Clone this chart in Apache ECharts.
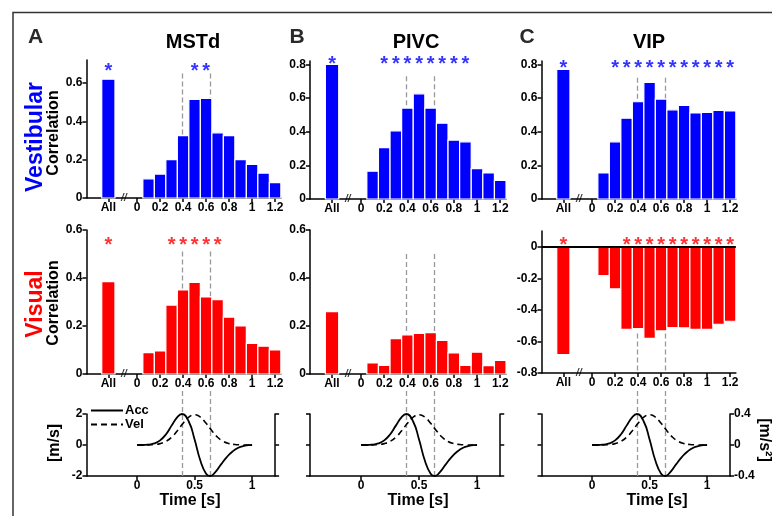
<!DOCTYPE html>
<html>
<head>
<meta charset="utf-8">
<script src="https://cdn.jsdelivr.net/npm/echarts@6/dist/echarts.min.js"></script>
<style>
html, body { margin: 0; background: #fff; }
#fig { width: 772px; height: 516px; }
</style>
</head>
<body>
<div id="fig"></div>
<script>
// time bins (s) and tick labels
var bins = [0.1, 0.2, 0.3, 0.4, 0.5, 0.6, 0.7, 0.8, 0.9, 1.0, 1.1, 1.2];
var barTicks = ['All', 0, 0.2, 0.4, 0.6, 0.8, 1, 1.2];
var kinTicks = [0, 0.5, 1];
var peakTimes = [0.39, 0.635];

// vestibular correlations
var mstdVestAll = 0.62;
var mstdVest = [0.10, 0.125, 0.20, 0.325, 0.515, 0.52, 0.34, 0.325, 0.20, 0.175, 0.13, 0.08];
var pivcVestAll = 0.80;
var pivcVest = [0.165, 0.305, 0.405, 0.54, 0.625, 0.54, 0.45, 0.35, 0.34, 0.18, 0.155, 0.11];
var vipVestAll = 0.77;
var vipVest = [0.155, 0.34, 0.48, 0.578, 0.693, 0.594, 0.53, 0.556, 0.511, 0.515, 0.527, 0.523];

// visual correlations
var mstdVisAll = 0.385;
var mstdVis = [0.089, 0.096, 0.287, 0.35, 0.382, 0.321, 0.31, 0.237, 0.20, 0.127, 0.116, 0.10];
var pivcVisAll = 0.26;
var pivcVis = [0.046, 0.036, 0.147, 0.163, 0.169, 0.172, 0.14, 0.088, 0.036, 0.091, 0.035, 0.057];
var vipVisAll = -0.684;
var vipVis = [-0.183, -0.267, -0.524, -0.518, -0.581, -0.533, -0.512, -0.514, -0.524, -0.524, -0.491, -0.472];

// significant bins
var mstdVestStars = ['All', 0.5, 0.6];
var pivcVestStars = ['All', 0.2, 0.3, 0.4, 0.5, 0.6, 0.7, 0.8, 0.9];
var vipVestStars = ['All', 0.2, 0.3, 0.4, 0.5, 0.6, 0.7, 0.8, 0.9, 1.0, 1.1, 1.2];
var mstdVisStars = ['All', 0.3, 0.4, 0.5, 0.6, 0.7];
var pivcVisStars = [];
var vipVisStars = ['All', 0.3, 0.4, 0.5, 0.6, 0.7, 0.8, 0.9, 1.0, 1.1, 1.2];

// stimulus profile
var accT = [0, 0.05, 0.1, 0.15, 0.2, 0.25, 0.3, 0.35, 0.39, 0.45, 0.5, 0.55, 0.6, 0.635, 0.68, 0.73, 0.78, 0.83, 0.88, 0.93, 0.97, 1.0];
var accV = [0, 0, 0.03, 0.1, 0.3, 0.68, 1.25, 1.8, 2.0, 1.5, 0.35, -1.0, -1.85, -2.0, -1.75, -1.25, -0.78, -0.42, -0.18, -0.06, -0.01, 0];
var velT = [0, 0.05, 0.1, 0.15, 0.2, 0.25, 0.3, 0.35, 0.4, 0.45, 0.5, 0.55, 0.6, 0.65, 0.7, 0.75, 0.8, 0.85, 0.9, 0.95, 1.0];
var velV = [0, 0, 0.01, 0.03, 0.09, 0.23, 0.5, 0.92, 1.4, 1.8, 1.95, 1.8, 1.4, 0.92, 0.5, 0.23, 0.09, 0.03, 0.01, 0, 0];

var FONT = '"Liberation Sans", Arial, sans-serif';
var BLUE = '#0000ff', RED = '#ff0000';
var ALL_X = -0.25;
var XMIN = -0.44;

var grids = [], xAxes = [], yAxes = [], series = [];

function tickLabel(v) { return v === ALL_X ? 'All' : String(v); }
function pos(s) { return s === 'All' ? ALL_X : s; }

function line() { return { show: true, onZero: false, lineStyle: { color: '#000', width: 1.5 } }; }
function ticks(vals) { return { show: true, length: 4, customValues: vals, lineStyle: { color: '#000', width: 1.5 } }; }
function labels(vals, show, fmt) {
  return { show: show, customValues: vals, formatter: fmt, color: '#000', fontSize: 12,
           fontWeight: 'bold', fontFamily: FONT, margin: 4 };
}

function bars(xi, yi, data, width, color, extra) {
  var s = {
    type: 'custom', xAxisIndex: xi, yAxisIndex: yi, data: data, z: 2, silent: true,
    renderItem: function (params, api) {
      var x = api.value(0), v = api.value(1);
      var a = api.coord([x - width / 2, v]);
      var b = api.coord([x + width / 2, 0]);
      return { type: 'rect',
        shape: { x: a[0], y: Math.min(a[1], b[1]), width: b[0] - a[0], height: Math.abs(b[1] - a[1]) },
        style: { fill: color, stroke: '#fff', lineWidth: 1.2 } };
    }
  };
  for (var k in extra) s[k] = extra[k];
  return s;
}

function barPanel(p) {
  var gi = grids.length, xi = xAxes.length, yi = yAxes.length;
  grids.push({ left: p.left, top: p.top, width: (1.25 - XMIN) * p.scale, height: p.height });
  var xt = barTicks.map(pos);
  xAxes.push({ gridIndex: gi, type: 'value', min: XMIN, max: 1.25, axisLine: line(),
    axisTick: ticks(xt), axisLabel: labels(xt, true, tickLabel), splitLine: { show: false } });
  yAxes.push({ gridIndex: gi, type: 'value', min: p.ymin, max: p.ymax, axisLine: line(),
    axisTick: ticks(p.yTicks), axisLabel: labels(p.yTicks, true), splitLine: { show: false } });

  series.push(bars(xi, yi, [[ALL_X, p.all]], 0.115, p.color));
  series.push(bars(xi, yi, bins.map(function (t, i) { return [t, p.vals[i]]; }), 0.1, p.color, {
    markLine: { silent: true, z: 1, symbol: ['none', 'none'], animation: false, label: { show: false },
      lineStyle: { color: '#999', type: [5, 3], width: 1.3 },
      data: peakTimes.map(function (t) { return [{ coord: [t, p.dash[0]] }, { coord: [t, p.dash[1]] }]; }) }
  }));

  var stars = {
    type: 'scatter', xAxisIndex: xi, yAxisIndex: yi, clip: false, silent: true, z: 4,
    symbol: 'circle', symbolSize: 1, itemStyle: { color: 'rgba(0,0,0,0)' },
    data: p.stars.map(function (s) { return [pos(s), p.starY]; }),
    label: { show: true, position: 'inside', formatter: '*', color: p.color, fontSize: 20,
             fontWeight: 'bold', fontFamily: FONT, offset: [0, 5] }
  };
  if (p.zeroLine) {
    stars.markLine = { silent: true, z: 5, symbol: ['none', 'none'], animation: false, label: { show: false },
      lineStyle: { color: '#000', type: 'solid', width: 2.2 }, data: [{ yAxis: 0 }] };
  }
  series.push(stars);

  series.push({
    type: 'scatter', xAxisIndex: xi, yAxisIndex: yi, clip: false, silent: true, z: 4,
    symbol: 'circle', symbolSize: 1, itemStyle: { color: 'rgba(0,0,0,0)' },
    data: [[-0.115, p.ymin]],
    label: { show: true, position: 'inside', formatter: '//', color: '#000', fontSize: 10,
             fontWeight: 'bold', fontFamily: FONT, fontStyle: 'italic' }
  });
}

function kinPanel(p) {
  var gi = grids.length, xi = xAxes.length, yi = yAxes.length;
  var w = (1.2 - XMIN) * p.scale;
  grids.push({ left: p.left, top: 414, width: w, height: 62 });
  xAxes.push({ gridIndex: gi, type: 'value', min: XMIN, max: 1.2, axisLine: line(),
    axisTick: ticks(kinTicks), axisLabel: labels(kinTicks, true), splitLine: { show: false } });
  yAxes.push({ gridIndex: gi, type: 'value', min: -2, max: 2, position: 'left', axisLine: line(),
    axisTick: ticks([-2, 0, 2]), axisLabel: labels([-2, 0, 2], p.leftLabels), splitLine: { show: false } });
  yAxes.push({ gridIndex: gi, type: 'value', min: -0.4, max: 0.4, position: 'right', axisLine: line(),
    axisTick: ticks([-0.4, 0, 0.4]), axisLabel: labels([-0.4, 0, 0.4], p.rightLabels), splitLine: { show: false } });

  series.push({ name: 'Acc', type: 'line', xAxisIndex: xi, yAxisIndex: yi, smooth: true, symbol: 'none',
    silent: true, z: 3, color: '#000', lineStyle: { color: '#000', width: 1.8 },
    data: accT.map(function (t, i) { return [t, accV[i]]; }) });
  series.push({ name: 'Vel', type: 'line', xAxisIndex: xi, yAxisIndex: yi, smooth: true, symbol: 'none',
    silent: true, z: 3, color: '#000', lineStyle: { color: '#000', width: 1.6, type: [6, 4] },
    data: velT.map(function (t, i) { return [t, velV[i]]; }) });

  // taller overlay so the peak markers start above the panel like in the figure
  var go = grids.length, xo = xAxes.length, yo = yAxes.length;
  grids.push({ left: p.left, top: 390, width: w, height: 86 });
  xAxes.push({ gridIndex: go, type: 'value', min: XMIN, max: 1.2, show: false });
  yAxes.push({ gridIndex: go, type: 'value', min: 0, max: 1, show: false });
  series.push({ type: 'line', xAxisIndex: xo, yAxisIndex: yo, data: [], silent: true,
    markLine: { silent: true, z: 1, symbol: ['none', 'none'], animation: false, label: { show: false },
      lineStyle: { color: '#999', type: [5, 3], width: 1.3 },
      data: peakTimes.map(function (t) { return [{ coord: [t, 0] }, { coord: [t, 1] }]; }) } });
}

var cols = [
  { left: 86.5, scale: 115 },
  { left: 310, scale: 116 },
  { left: 541.5, scale: 115 }
];
var t08 = [0, 0.2, 0.4, 0.6, 0.8], t06 = [0, 0.2, 0.4, 0.6];

barPanel({ left: cols[0].left, scale: cols[0].scale, top: 60, height: 138, ymin: 0, ymax: 0.72, yTicks: t06,
  all: mstdVestAll, vals: mstdVest, stars: mstdVestStars, starY: 0.684, dash: [0.65, 0], color: BLUE });
barPanel({ left: cols[1].left, scale: cols[1].scale, top: 61, height: 138, ymin: 0, ymax: 0.82, yTicks: t08,
  all: pivcVestAll, vals: pivcVest, stars: pivcVestStars, starY: 0.83, dash: [0.73, 0], color: BLUE });
barPanel({ left: cols[2].left, scale: cols[2].scale, top: 61, height: 138, ymin: 0, ymax: 0.82, yTicks: t08,
  all: vipVestAll, vals: vipVest, stars: vipVestStars, starY: 0.806, dash: [0.72, 0], color: BLUE });

barPanel({ left: cols[0].left, scale: cols[0].scale, top: 230, height: 144, ymin: 0, ymax: 0.6, yTicks: t06,
  all: mstdVisAll, vals: mstdVis, stars: mstdVisStars, starY: 0.556, dash: [0.51, 0], color: RED });
barPanel({ left: cols[1].left, scale: cols[1].scale, top: 230, height: 144, ymin: 0, ymax: 0.6, yTicks: t06,
  all: pivcVisAll, vals: pivcVis, stars: pivcVisStars, starY: 0.55, dash: [0.5, 0], color: RED });
barPanel({ left: cols[2].left, scale: cols[2].scale, top: 231, height: 142, ymin: -0.8, ymax: 0.1,
  yTicks: [-0.8, -0.6, -0.4, -0.2, 0], all: vipVisAll, vals: vipVis, stars: vipVisStars, starY: 0.042,
  dash: [-0.55, -0.8], color: RED, zeroLine: true });

kinPanel({ left: cols[0].left, scale: cols[0].scale, leftLabels: true, rightLabels: false });
kinPanel({ left: cols[1].left, scale: cols[1].scale, leftLabels: false, rightLabels: false });
kinPanel({ left: cols[2].left, scale: cols[2].scale, leftLabels: false, rightLabels: true });

function txt(x, y, text, size, color, rot) {
  return { type: 'text', x: x, y: y, rotation: rot || 0, silent: true,
    style: { text: text, fill: color || '#000', font: 'bold ' + size + 'px ' + FONT,
             align: 'center', verticalAlign: 'middle' } };
}

var chart = echarts.init(document.getElementById('fig'));
chart.setOption({
  animation: false,
  grid: grids,
  xAxis: xAxes,
  yAxis: yAxes,
  series: series,
  legend: {
    data: ['Acc', 'Vel'], orient: 'vertical', left: 90, top: 404, padding: 0,
    itemWidth: 32, itemHeight: 10, itemGap: 1, selectedMode: false,
    itemStyle: { opacity: 0 },
    textStyle: { color: '#000', fontSize: 13, fontWeight: 'bold', fontFamily: FONT, padding: [0, 0, 0, -3] }
  },
  graphic: [
    { type: 'polyline', silent: true, shape: { points: [[13, 516], [13, 12.5], [772, 12.5]] },
      style: { stroke: '#333', lineWidth: 1.5, fill: null } },
    txt(35.5, 37, 'A', 21, '#2a2a2a'),
    txt(297, 37, 'B', 21, '#2a2a2a'),
    txt(527, 37, 'C', 21, '#2a2a2a'),
    txt(193, 42, 'MSTd', 20),
    txt(416, 42, 'PIVC', 20),
    txt(649, 42, 'VIP', 20),
    txt(36, 137, 'Vestibular', 23, BLUE, Math.PI / 2),
    txt(54, 133, 'Correlation', 16, '#000', Math.PI / 2),
    txt(36, 304, 'Visual', 23, RED, Math.PI / 2),
    txt(54, 303, 'Correlation', 16, '#000', Math.PI / 2),
    txt(55, 443, '[m/s]', 16, '#000', Math.PI / 2),
    txt(764, 440, '[m/s\u00b2]', 16, '#000', -Math.PI / 2),
    txt(190, 501, 'Time [s]', 16),
    txt(418, 501, 'Time [s]', 16),
    txt(657, 501, 'Time [s]', 16)
  ]
});
</script>
</body>
</html>
